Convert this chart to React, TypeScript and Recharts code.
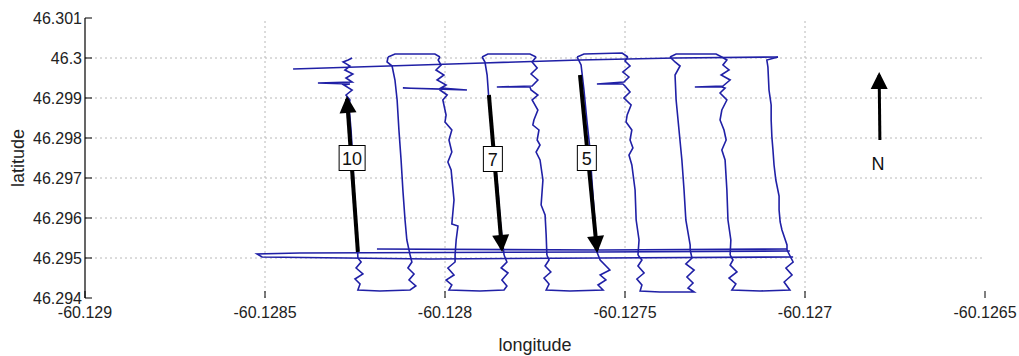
import React from 'react';
import { ComposedChart, Line, Scatter, XAxis, YAxis, ReferenceLine, Label } from 'recharts';

type P = [number, number];

const xTicks = [-60.129, -60.1285, -60.128, -60.1275, -60.127, -60.1265];
const xTickLabels = ['-60.129', '-60.1285', '-60.128', '-60.1275', '-60.127', '-60.1265'];
const yTicks = [46.294, 46.295, 46.296, 46.297, 46.298, 46.299, 46.3, 46.301];
const yTickLabels = ['46.294', '46.295', '46.296', '46.297', '46.298', '46.299', '46.3', '46.301'];
const gridLon = [-60.1285, -60.128, -60.1275, -60.127];
const gridLat = [46.295, 46.296, 46.297, 46.298, 46.299, 46.3];

const topTransit: P[] = [[-60.128422, 46.299725], [-60.128158, 46.2998], [-60.127894, 46.299875], [-60.127625, 46.29995], [-60.127361, 46.3], [-60.127075, 46.300025]];

const line1: P[] = [[-60.127075, 46.300025], [-60.127106, 46.29995], [-60.127103, 46.299775], [-60.1271, 46.2992], [-60.127094, 46.298825], [-60.127094, 46.29845], [-60.127092, 46.298025], [-60.127089, 46.2977], [-60.127086, 46.297325], [-60.127081, 46.29695], [-60.127072, 46.29655], [-60.127072, 46.2962], [-60.127069, 46.2959], [-60.127064, 46.2957], [-60.12705, 46.295325], [-60.12705, 46.2952]];
const loop12: P[] = [[-60.12705, 46.2952], [-60.127033, 46.2949], [-60.127053, 46.29475], [-60.127036, 46.294575], [-60.127058, 46.2944], [-60.127042, 46.2942], [-60.127125, 46.294175], [-60.127203, 46.2942], [-60.127192, 46.29435], [-60.127211, 46.2945], [-60.127189, 46.29465], [-60.127208, 46.294825], [-60.1272, 46.29495], [-60.127208, 46.295075]];
const line2: P[] = [[-60.127208, 46.295075], [-60.127206, 46.29545], [-60.127214, 46.29595], [-60.127217, 46.2967], [-60.127222, 46.29745], [-60.127231, 46.2977], [-60.127219, 46.29795], [-60.127225, 46.2982], [-60.127236, 46.29845], [-60.127231, 46.2987], [-60.127217, 46.29895], [-60.127236, 46.299125], [-60.127222, 46.29925], [-60.127231, 46.299275], [-60.127306, 46.299275], [-60.127228, 46.2993], [-60.127208, 46.29945], [-60.127233, 46.299575], [-60.127211, 46.2997], [-60.127228, 46.299825], [-60.127217, 46.29995], [-60.127231, 46.300025]];
const top23: P[] = [[-60.127231, 46.300025], [-60.127247, 46.3001], [-60.127358, 46.3001], [-60.127375, 46.300025]];
const line3: P[] = [[-60.127375, 46.300025], [-60.127361, 46.2999], [-60.127347, 46.2998], [-60.127361, 46.299575], [-60.127358, 46.29895], [-60.12735, 46.2982], [-60.127342, 46.29745], [-60.127336, 46.2967], [-60.127331, 46.29595], [-60.127319, 46.295325], [-60.127319, 46.2952]];
const loop34: P[] = [[-60.127319, 46.2952], [-60.127314, 46.295], [-60.127331, 46.29485], [-60.127308, 46.2947], [-60.127328, 46.294525], [-60.127311, 46.294375], [-60.127325, 46.29425], [-60.127308, 46.29415], [-60.127403, 46.29415], [-60.127458, 46.294175], [-60.127453, 46.294325], [-60.127467, 46.294475], [-60.127447, 46.294625], [-60.127464, 46.2948], [-60.127453, 46.29495], [-60.127464, 46.295075]];
const line4: P[] = [[-60.127464, 46.295075], [-60.127461, 46.29545], [-60.127469, 46.29595], [-60.127472, 46.2967], [-60.127481, 46.297325], [-60.127489, 46.297575], [-60.127478, 46.29775], [-60.127486, 46.29795], [-60.127481, 46.2982], [-60.127497, 46.2984], [-60.127494, 46.298575], [-60.127483, 46.298825], [-60.127503, 46.299], [-60.127486, 46.29915], [-60.1275, 46.2993], [-60.127506, 46.29935], [-60.127578, 46.29935], [-60.127503, 46.2994], [-60.127489, 46.299525], [-60.127506, 46.29965], [-60.127486, 46.2998], [-60.1275, 46.299925], [-60.127492, 46.300025]];
const top45: P[] = [[-60.127492, 46.300025], [-60.127508, 46.300125], [-60.127614, 46.3001], [-60.127633, 46.300025]];
const line5: P[] = [[-60.127633, 46.300025], [-60.127622, 46.299825], [-60.127614, 46.2992], [-60.127606, 46.29845], [-60.127597, 46.2977], [-60.127592, 46.29695], [-60.127586, 46.2962], [-60.127581, 46.295575], [-60.127578, 46.29515]];
const loop56: P[] = [[-60.127578, 46.29515], [-60.127569, 46.29495], [-60.127542, 46.2947], [-60.127569, 46.294575], [-60.127553, 46.29445], [-60.127575, 46.294325], [-60.127561, 46.2942], [-60.127653, 46.294175], [-60.127719, 46.2942], [-60.127711, 46.29435], [-60.127725, 46.2945], [-60.127706, 46.29465], [-60.127722, 46.2948], [-60.127711, 46.29495], [-60.127717, 46.295075]];
const line6: P[] = [[-60.127717, 46.295075], [-60.127719, 46.295575], [-60.127722, 46.296075], [-60.127733, 46.296325], [-60.127728, 46.29695], [-60.127736, 46.29745], [-60.127747, 46.29765], [-60.127736, 46.297825], [-60.127744, 46.29795], [-60.127739, 46.2982], [-60.127756, 46.298325], [-60.127753, 46.29845], [-60.127742, 46.2987], [-60.127758, 46.29895], [-60.127742, 46.299075], [-60.127761, 46.2992], [-60.127764, 46.299275], [-60.127856, 46.299275], [-60.127758, 46.2993], [-60.127742, 46.29945], [-60.127761, 46.2996], [-60.127744, 46.29975], [-60.127758, 46.2999], [-60.127747, 46.300025]];
const top67: P[] = [[-60.127747, 46.300025], [-60.127764, 46.3001], [-60.127881, 46.3001], [-60.127897, 46.300025]];
const line7: P[] = [[-60.127897, 46.300025], [-60.127889, 46.2999], [-60.127883, 46.299575], [-60.127878, 46.29895], [-60.127869, 46.2982], [-60.127861, 46.29745], [-60.127853, 46.2967], [-60.127847, 46.29595], [-60.127839, 46.295325], [-60.127836, 46.295075]];
const loop78: P[] = [[-60.127836, 46.295075], [-60.127828, 46.2949], [-60.127844, 46.29475], [-60.127825, 46.294625], [-60.127842, 46.29445], [-60.127828, 46.2943], [-60.127836, 46.2942], [-60.127903, 46.294175], [-60.127989, 46.2942], [-60.127981, 46.294325], [-60.127997, 46.29445], [-60.127975, 46.294575], [-60.127992, 46.29475], [-60.127972, 46.2949], [-60.127972, 46.295075]];
const line8: P[] = [[-60.127972, 46.295075], [-60.127969, 46.29545], [-60.127964, 46.2958], [-60.127981, 46.29585], [-60.127975, 46.29645], [-60.127983, 46.2972], [-60.127992, 46.2974], [-60.127981, 46.29765], [-60.127989, 46.29795], [-60.127981, 46.2982], [-60.128, 46.2984], [-60.127997, 46.298575], [-60.128006, 46.29895], [-60.127994, 46.299075], [-60.128014, 46.2992], [-60.128014, 46.299225], [-60.128117, 46.29925], [-60.127939, 46.2992], [-60.128011, 46.29925], [-60.127997, 46.299325], [-60.128022, 46.29945], [-60.128003, 46.299575], [-60.128025, 46.2997], [-60.128011, 46.299825], [-60.128019, 46.29995], [-60.128014, 46.300025]];
const top89: P[] = [[-60.128014, 46.300025], [-60.128028, 46.3001], [-60.128139, 46.3001], [-60.128158, 46.300025]];
const line9: P[] = [[-60.128158, 46.300025], [-60.128161, 46.2999], [-60.128147, 46.2998], [-60.128139, 46.29945], [-60.128133, 46.29895], [-60.128128, 46.2982], [-60.128122, 46.29745], [-60.128117, 46.2967], [-60.128111, 46.29595], [-60.128106, 46.29545], [-60.128097, 46.295075]];
const loop910: P[] = [[-60.128097, 46.295075], [-60.128092, 46.2949], [-60.128103, 46.29475], [-60.128086, 46.2946], [-60.1281, 46.29445], [-60.128081, 46.2943], [-60.128097, 46.2942], [-60.128181, 46.294175], [-60.128242, 46.2942], [-60.128236, 46.29435], [-60.12825, 46.294475], [-60.128228, 46.2946], [-60.128247, 46.29475], [-60.128233, 46.2949], [-60.128242, 46.295]];
const line10: P[] = [[-60.128242, 46.295], [-60.128244, 46.29545], [-60.128247, 46.29595], [-60.128253, 46.2967], [-60.128256, 46.29745], [-60.128261, 46.2982], [-60.128267, 46.298825], [-60.128264, 46.29895], [-60.128275, 46.299075], [-60.128258, 46.2992], [-60.128281, 46.299325], [-60.128264, 46.29935], [-60.128353, 46.299375], [-60.128258, 46.2994], [-60.128275, 46.2995], [-60.128256, 46.2996], [-60.128278, 46.2997], [-60.128264, 46.2998], [-60.128283, 46.2999], [-60.128269, 46.29995], [-60.128258, 46.3]];
const transitLow: P[] = [[-60.127033, 46.295025], [-60.127569, 46.295], [-60.128042, 46.294975], [-60.128508, 46.295025], [-60.128522, 46.2951], [-60.128403, 46.295125], [-60.127569, 46.29515], [-60.127042, 46.295175]];
const transitHigh: P[] = [[-60.128189, 46.295225], [-60.127569, 46.2952], [-60.12705, 46.295225]];

const trackPieces: P[][] = [topTransit, line1, loop12, line2, top23, line3, loop34, line4, top45, line5, loop56, line6, top67, line7, loop78, line8, top89, line9, loop910, line10, transitLow, transitHigh];

// arrows: line 10, line 7, line 5, north
const arrowTail: P[] = [[-60.128242, 46.29515], [-60.127878, 46.299075], [-60.127625, 46.299575], [-60.126792, 46.29795]];
const arrowTip: P[] = [[-60.128272, 46.298975], [-60.127842, 46.295225], [-60.127578, 46.2952], [-60.126794, 46.299575]];
const arrowAngle = [-4, 175, 174.5, 0];

const lineLabels = ['10', '7', '5'];
const lineLabelPos: P[] = [[-60.128258, 46.2975], [-60.127867, 46.297475], [-60.127606, 46.2975]];
const northLabel = 'N';
const northPos: P = [-60.126797, 46.297375];

const FONT = '"Liberation Sans", Arial, Helvetica, sans-serif';
const TRACK = '#2020a6';

const toXY = (pts: P[]) => pts.map(([x, y]) => ({ x, y }));
const fmtX = (v: number) => {
  const i = xTicks.findIndex((t) => Math.abs(t - v) < 1e-9);
  return i >= 0 ? xTickLabels[i] : String(v);
};
const fmtY = (v: number) => {
  const i = yTicks.findIndex((t) => Math.abs(t - v) < 1e-9);
  return i >= 0 ? yTickLabels[i] : String(v);
};

const ArrowHead = (props: any) => {
  const { cx, cy, payload } = props;
  if (cx == null || cy == null) return <g />;
  return (
    <path
      d="M0,0 L-8.5,17 L8.5,17 Z"
      fill="#000"
      transform={`translate(${cx},${cy}) rotate(${payload.angle}) translate(0,-3)`}
    />
  );
};

const BoxLabel = (props: any) => {
  const { cx, cy, payload } = props;
  if (cx == null || cy == null) return <g />;
  const w = payload.text.length > 1 ? 26 : 19;
  const h = 25;
  return (
    <g>
      <rect x={cx - w / 2} y={cy - h / 2} width={w} height={h} fill="#fff" stroke="#000" strokeWidth={1} />
      <text x={cx} y={cy + 6.5} textAnchor="middle" fontSize={18} fontFamily={FONT} fill="#111">
        {payload.text}
      </text>
    </g>
  );
};

const PlainLabel = (props: any) => {
  const { cx, cy, payload } = props;
  if (cx == null || cy == null) return <g />;
  return (
    <text x={cx} y={cy + 6.5} textAnchor="middle" fontSize={18} fontFamily={FONT} fill="#111">
      {payload.text}
    </text>
  );
};

export default function App() {
  const shafts = arrowTail.map((t, i) => [
    { x: t[0], y: t[1] },
    { x: arrowTip[i][0], y: arrowTip[i][1] },
  ]);
  const heads = arrowTip.map((p, i) => ({ x: p[0], y: p[1], angle: arrowAngle[i] }));
  const boxes = lineLabels.map((t, i) => ({ x: lineLabelPos[i][0], y: lineLabelPos[i][1], text: t }));
  const north = [{ x: northPos[0], y: northPos[1], text: northLabel }];

  return (
    <div style={{ position: 'absolute', left: 0, top: 0, width: 1019, height: 356, fontFamily: FONT, background: '#fff' }}>
      <ComposedChart width={1019} height={356} margin={{ top: 18, right: 34, bottom: 0, left: 0 }}>
        <XAxis
          type="number"
          dataKey="x"
          domain={[-60.129, -60.1265]}
          ticks={xTicks}
          tickFormatter={fmtX}
          interval={0}
          allowDataOverflow
          axisLine={false}
          tickSize={-7}
          tickMargin={16}
          height={58}
          tickLine={{ stroke: '#000' }}
          tick={{ fill: '#222', fontSize: 16, fontFamily: FONT }}
        >
          <Label value="longitude" position="insideBottom" offset={5} style={{ fontSize: 18, fill: '#222', fontFamily: FONT }} />
        </XAxis>
        <XAxis
          xAxisId="top"
          orientation="top"
          type="number"
          dataKey="x"
          domain={[-60.129, -60.1265]}
          ticks={gridLon}
          allowDataOverflow
          axisLine={false}
          tick={false}
          tickSize={-8}
          height={0}
          tickLine={{ stroke: '#000' }}
        />
        <YAxis
          type="number"
          domain={[46.294, 46.301]}
          ticks={yTicks}
          tickFormatter={fmtY}
          interval={0}
          allowDataOverflow
          width={85}
          axisLine={{ stroke: '#000', strokeWidth: 1.2 }}
          tickSize={-7}
          tickMargin={10}
          tickLine={{ stroke: '#000' }}
          tick={{ fill: '#222', fontSize: 16, fontFamily: FONT }}
        >
          <Label value="latitude" angle={-90} position="insideLeft" offset={18} style={{ fontSize: 18, fill: '#222', textAnchor: 'middle', fontFamily: FONT }} />
        </YAxis>
        <YAxis
          yAxisId="right"
          orientation="right"
          type="number"
          domain={[46.294, 46.301]}
          ticks={yTicks}
          allowDataOverflow
          width={0}
          axisLine={{ stroke: '#000', strokeWidth: 1.2 }}
          tick={false}
          tickSize={-7}
          tickLine={{ stroke: '#000' }}
        />
        {gridLon.map((v) => (
          <ReferenceLine key={'gx' + v} x={v} stroke="#b8b8b8" strokeDasharray="2 3" />
        ))}
        {gridLat.map((v) => (
          <ReferenceLine key={'gy' + v} y={v} stroke="#b8b8b8" strokeDasharray="2 3" />
        ))}
        {trackPieces.map((pts, i) => (
          <Line
            key={'t' + i}
            data={toXY(pts)}
            dataKey="y"
            type="linear"
            stroke={TRACK}
            strokeWidth={1.6}
            dot={false}
            activeDot={false}
            isAnimationActive={false}
            legendType="none"
          />
        ))}
        {shafts.map((d, i) => (
          <Line
            key={'s' + i}
            data={d}
            dataKey="y"
            type="linear"
            stroke="#000"
            strokeWidth={i === 3 ? 3 : 4}
            dot={false}
            activeDot={false}
            isAnimationActive={false}
            legendType="none"
          />
        ))}
        <Scatter data={heads} dataKey="y" shape={ArrowHead} isAnimationActive={false} />
        <Scatter data={boxes} dataKey="y" shape={BoxLabel} isAnimationActive={false} />
        <Scatter data={north} dataKey="y" shape={PlainLabel} isAnimationActive={false} />
      </ComposedChart>
    </div>
  );
}
